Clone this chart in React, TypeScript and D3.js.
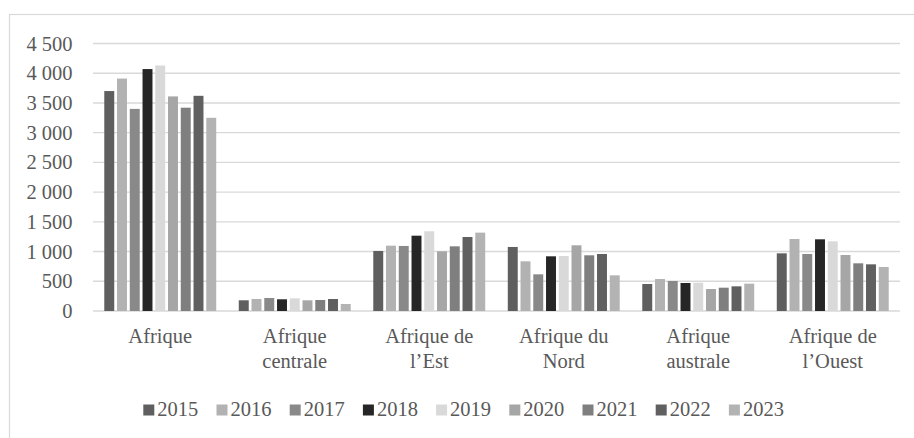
import React from "react";
import * as d3 from "d3";

const categories: string[][] = [
  ["Afrique"],
  ["Afrique", "centrale"],
  ["Afrique de", "l’Est"],
  ["Afrique du", "Nord"],
  ["Afrique", "australe"],
  ["Afrique de", "l’Ouest"],
];
const years = ["2015", "2016", "2017", "2018", "2019", "2020", "2021", "2022", "2023"];
const colors = ["#5f5f5f", "#b2b2b2", "#898989", "#262626", "#d9d9d9", "#a6a6a6", "#7f7f7f", "#606060", "#b3b3b3"];

// values[categoryIndex][yearIndex]
const afrique = [3700, 3910, 3400, 4070, 4130, 3610, 3420, 3620, 3250];
const afriqueCentrale = [180, 202, 219, 197, 213, 180, 185, 202, 118];
const afriqueEst = [1010, 1099, 1094, 1267, 1341, 1004, 1088, 1245, 1318];
const afriqueNord = [1077, 836, 617, 920, 925, 1105, 937, 959, 600];
const afriqueAustrale = [454, 538, 505, 471, 476, 370, 392, 415, 460];
const afriqueOuest = [970, 1211, 959, 1206, 1172, 942, 802, 785, 740];
const values = [afrique, afriqueCentrale, afriqueEst, afriqueNord, afriqueAustrale, afriqueOuest];

const yTicks = [0, 500, 1000, 1500, 2000, 2500, 3000, 3500, 4000, 4500];

const W = 914;
const H = 438;
const plotLeft = 93;
const plotRight = 900;
const plotTop = 43.5;
const plotBottom = 311;
const font = "'Liberation Serif', 'Times New Roman', serif";
const textColor = "#595959";
const gridColor = "#d9d9d9";

const fmt = (v: number) => {
  const s = String(v);
  if (s.length <= 3) return s;
  return s.slice(0, s.length - 3) + " " + s.slice(s.length - 3);
};

export default function App() {
  const catKeys = categories.map((c) => c.join(" "));
  const x0 = d3.scaleBand<string>().domain(catKeys).range([plotLeft, plotRight]).paddingInner(0).paddingOuter(0);
  const x1 = d3.scaleBand<string>().domain(years).range([0, x0.bandwidth()]).paddingInner(0).paddingOuter(0.775);
  const y = d3.scaleLinear().domain([0, 4500]).range([plotBottom, plotTop]);
  const inset = 1.4;

  const legendStart = 143.3;
  const legendStep = 73.2;
  const legendBaseline = 416;

  return (
    <svg
      width={W}
      height={H}
      style={{ position: "absolute", left: 0, top: 0, background: "#fff" }}
      fontFamily={font}
    >
      <rect x={0} y={0} width={W} height={H} fill="#fff" />
      <rect x={9.5} y={14.5} width={1200} height={1200} fill="none" stroke={gridColor} strokeWidth={1.2} />
      {yTicks.map((t) => (
        <g key={t}>
          <line x1={plotLeft} x2={plotRight} y1={y(t)} y2={y(t)} stroke={gridColor} strokeWidth={1.4} />
          <text
            x={72.5}
            y={y(t) + 7}
            textAnchor="end"
            fontSize={20.5}
            fill={textColor}
          >
            {fmt(t)}
          </text>
        </g>
      ))}
      {values.map((vals, ci) => (
        <g key={ci} transform={`translate(${x0(catKeys[ci])},0)`}>
          {vals.map((v, yi) => (
            <rect
              key={yi}
              x={(x1(years[yi]) as number) + inset}
              width={x1.bandwidth() - inset * 2}
              y={y(v)}
              height={y(0) - y(v)}
              fill={colors[yi]}
            />
          ))}
        </g>
      ))}
      {categories.map((lines, ci) => {
        const cx = (x0(catKeys[ci]) as number) + x0.bandwidth() / 2;
        return (
          <text key={ci} x={cx} y={343} textAnchor="middle" fontSize={20.5} fill={textColor}>
            {lines.map((l, li) => (
              <tspan key={li} x={cx} dy={li === 0 ? 0 : 24.5}>
                {l}
              </tspan>
            ))}
          </text>
        );
      })}
      {years.map((yr, i) => {
        const lx = legendStart + i * legendStep;
        return (
          <g key={yr}>
            <rect x={lx} y={legendBaseline - 11.5} width={11} height={11} fill={colors[i]} />
            <text x={lx + 14} y={legendBaseline} fontSize={20.5} fill={textColor}>
              {yr}
            </text>
          </g>
        );
      })}
    </svg>
  );
}
